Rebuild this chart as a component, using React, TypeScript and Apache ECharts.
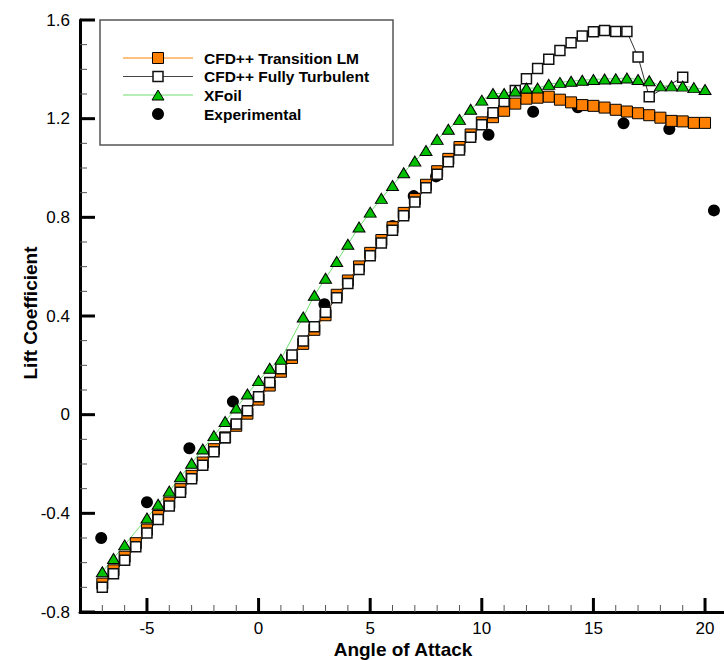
import React, { useEffect, useRef } from "react";
import * as echarts from "echarts";

// ---- Data ----
const tlmAoa = [-7, -6.5, -6, -5.5, -5, -4.5, -4, -3.5, -3, -2.5, -2, -1.5, -1, -0.5, 0, 0.5, 1, 1.5, 2, 2.5, 3, 3.5, 4, 4.5, 5, 5.5, 6, 6.5, 7, 7.5, 8, 8.5, 9, 9.5, 10, 10.5, 11, 11.5, 12, 12.5, 13, 13.5, 14, 14.5, 15, 15.5, 16, 16.5, 17, 17.5, 18, 18.5, 19, 19.5, 20];
const tlmCl = [-0.685, -0.631, -0.576, -0.521, -0.466, -0.411, -0.357, -0.302, -0.248, -0.194, -0.14, -0.092, -0.045, 0.004, 0.061, 0.118, 0.174, 0.23, 0.287, 0.344, 0.403, 0.486, 0.544, 0.601, 0.656, 0.708, 0.76, 0.818, 0.874, 0.932, 0.987, 1.037, 1.085, 1.136, 1.185, 1.206, 1.232, 1.261, 1.281, 1.285, 1.289, 1.277, 1.266, 1.255, 1.252, 1.245, 1.236, 1.229, 1.222, 1.214, 1.204, 1.191, 1.189, 1.183, 1.183];

const ftAoa = [-7, -6.5, -6, -5.5, -5, -4.5, -4, -3.5, -3, -2.5, -2, -1.5, -1, -0.5, 0, 0.5, 1, 1.5, 2, 2.5, 3, 3.5, 4, 4.5, 5, 5.5, 6, 6.5, 7, 7.5, 8, 8.5, 9, 9.5, 10, 10.5, 11, 11.5, 12, 12.5, 13, 13.5, 14, 14.5, 15, 15.5, 16, 16.5, 17, 17.5, 19];
const ftCl = [-0.7, -0.645, -0.59, -0.535, -0.48, -0.425, -0.37, -0.315, -0.26, -0.205, -0.15, -0.094, -0.038, 0.016, 0.073, 0.13, 0.186, 0.242, 0.299, 0.356, 0.415, 0.474, 0.532, 0.589, 0.644, 0.696, 0.748, 0.806, 0.862, 0.92, 0.975, 1.025, 1.073, 1.125, 1.175, 1.224, 1.27, 1.314, 1.362, 1.403, 1.441, 1.476, 1.508, 1.535, 1.552, 1.557, 1.553, 1.553, 1.45, 1.289, 1.368];

const xfAoa = [-7, -6.5, -6, -5, -4.5, -4, -3.5, -3, -2.5, -2, -1.5, -1, -0.5, 0, 0.5, 1, 2, 2.5, 3, 3.5, 4, 4.5, 5, 5.5, 6, 6.5, 7, 7.5, 8, 8.5, 9, 9.5, 10, 10.5, 11, 11.5, 12, 12.5, 13, 13.5, 14, 14.5, 15, 15.5, 16, 16.5, 17, 17.5, 18, 18.5, 19, 19.5, 20];
const xfCl = [-0.637, -0.583, -0.528, -0.419, -0.363, -0.31, -0.252, -0.197, -0.139, -0.085, -0.028, 0.027, 0.084, 0.138, 0.188, 0.225, 0.396, 0.484, 0.553, 0.621, 0.691, 0.761, 0.821, 0.877, 0.929, 0.981, 1.028, 1.071, 1.116, 1.157, 1.197, 1.238, 1.275, 1.302, 1.302, 1.312, 1.324, 1.324, 1.339, 1.347, 1.352, 1.356, 1.359, 1.361, 1.362, 1.365, 1.359, 1.354, 1.333, 1.333, 1.332, 1.326, 1.318];

const expAoa = [-7.05, -5.0, -3.1, -1.15, 2.95, 6.0, 6.95, 7.95, 10.3, 12.3, 14.3, 16.35, 18.4, 20.4];
const expCl = [-0.5, -0.355, -0.136, 0.053, 0.448, 0.765, 0.886, 0.966, 1.135, 1.228, 1.246, 1.181, 1.158, 0.828];

const xMajorTicks = [-5, 0, 5, 10, 15, 20];
const xMinorTicks = [-7, -6, -4, -3, -2, -1, 1, 2, 3, 4, 6, 7, 8, 9, 11, 12, 13, 14, 16, 17, 18, 19];
const yMajorTicks = [-0.8, -0.4, 0, 0.4, 0.8, 1.2, 1.6];
const yMinorTicks = [-0.7, -0.6, -0.5, -0.3, -0.2, -0.1, 0.1, 0.2, 0.3, 0.5, 0.6, 0.7, 0.9, 1.0, 1.1, 1.3, 1.4, 1.5];

const seriesNames = ["CFD++ Transition LM", "CFD++ Fully Turbulent", "XFoil", "Experimental"];
const xTitle = "Angle of Attack";
const yTitle = "Lift Coefficient";

const X_MIN = -8;
const X_MAX = 20.85;
const Y_MIN = -0.8;
const Y_MAX = 1.6;

const FONT = "'Liberation Sans', Arial, Helvetica, sans-serif";
const ORANGE = "#ff8000";
const GREEN = "#00c000";
const GREEN_LINE = "#6ee06e";

const pairs = (xs: number[], ys: number[]) => xs.map((x, i) => [x, ys[i]]);

// tick table: [axis (0 = x, 1 = y), value, major (1) / minor (0)]
const tickRows = [
  ...xMajorTicks.map((v) => [0, v, 1]),
  ...xMinorTicks.map((v) => [0, v, 0]),
  ...yMajorTicks.map((v) => [1, v, 1]),
  ...yMinorTicks.map((v) => [1, v, 0]),
];

export default function App() {
  const ref = useRef<HTMLDivElement>(null);
  useEffect(() => {
    if (!ref.current) return;
    const chart = echarts.init(ref.current, null, { renderer: "svg" });
    const legendRowY = [58, 76.5, 95, 114];
    const lx1 = 123, lx2 = 193, lmx = 158, ltx = 204;
    const option: any = {
      animation: false,
      grid: { left: 80, top: 20, width: 644, height: 592 },
      xAxis: {
        type: "value",
        min: X_MIN,
        max: X_MAX,
        position: "bottom",
        axisLine: { show: true, onZero: false, lineStyle: { color: "#000", width: 3 } },
        axisTick: { show: false },
        axisLabel: { show: true, customValues: xMajorTicks, margin: 8, fontSize: 17, color: "#000", fontFamily: FONT, formatter: (v: number) => String(v) },
        splitLine: { show: false },
      },
      yAxis: {
        type: "value",
        min: Y_MIN,
        max: Y_MAX,
        interval: 0.4,
        axisLine: { show: true, onZero: false, lineStyle: { color: "#000", width: 3 } },
        axisTick: { show: false },
        axisLabel: {
          margin: 10,
          fontSize: 17,
          color: "#000",
          fontFamily: FONT,
          formatter: (v: number) => (Math.abs(v) < 1e-9 ? "0" : v.toFixed(1)),
        },
        splitLine: { show: false },
      },
      series: [
        {
          type: "custom",
          name: "ticks",
          data: tickRows,
          clip: false,
          silent: true,
          z: 10,
          encode: { x: -1, y: -1 },
          renderItem: (params: any, api: any) => {
            const isY = api.value(0) === 1;
            const v = api.value(1);
            const major = api.value(2) === 1;
            const len = major ? (isY ? 15 : 14) : 7;
            const style = { stroke: major ? "#000" : "#555", lineWidth: major ? 3 : 1 };
            if (isY) {
              const p = api.coord([X_MIN, v]);
              return { type: "line", shape: { x1: p[0], y1: p[1], x2: p[0] + len, y2: p[1] }, style };
            }
            const p = api.coord([v, Y_MIN]);
            return { type: "line", shape: { x1: p[0], y1: p[1], x2: p[0], y2: p[1] - len }, style };
          },
        },
        {
          name: seriesNames[0],
          type: "line",
          data: pairs(tlmAoa, tlmCl),
          symbol: "rect",
          symbolSize: 11,
          showAllSymbol: true,
          itemStyle: { color: ORANGE, borderColor: "#000", borderWidth: 1 },
          lineStyle: { color: ORANGE, width: 1 },
        },
        {
          name: seriesNames[1],
          type: "line",
          data: pairs(ftAoa, ftCl),
          symbol: "rect",
          symbolSize: 10,
          showAllSymbol: true,
          itemStyle: { color: "#fff", borderColor: "#111", borderWidth: 1.5 },
          lineStyle: { color: "#333", width: 1 },
        },
        {
          name: seriesNames[2],
          type: "line",
          data: pairs(xfAoa, xfCl),
          symbol: "triangle",
          symbolSize: [12, 10],
          showAllSymbol: true,
          itemStyle: { color: GREEN, borderColor: "#000", borderWidth: 1 },
          lineStyle: { color: GREEN_LINE, width: 1 },
        },
        {
          name: seriesNames[3],
          type: "scatter",
          data: pairs(expAoa, expCl),
          symbol: "circle",
          symbolSize: 12,
          itemStyle: { color: "#000", opacity: 1 },
        },
      ],
      graphic: [
        {
          type: "rect",
          shape: { x: 100, y: 20, width: 293, height: 125 },
          style: { fill: "#fff", stroke: "#555", lineWidth: 1.5 },
          z: 10,
        },
        { type: "line", shape: { x1: lx1, y1: legendRowY[0], x2: lx2, y2: legendRowY[0] }, style: { stroke: ORANGE, lineWidth: 1 }, z: 11 },
        { type: "rect", shape: { x: lmx - 5.5, y: legendRowY[0] - 5.5, width: 11, height: 11 }, style: { fill: ORANGE, stroke: "#000", lineWidth: 1 }, z: 12 },
        { type: "line", shape: { x1: lx1, y1: legendRowY[1], x2: lx2, y2: legendRowY[1] }, style: { stroke: "#444", lineWidth: 1 }, z: 11 },
        { type: "rect", shape: { x: lmx - 5, y: legendRowY[1] - 5, width: 10, height: 10 }, style: { fill: "#fff", stroke: "#111", lineWidth: 1.5 }, z: 12 },
        { type: "line", shape: { x1: lx1, y1: legendRowY[2], x2: lx2, y2: legendRowY[2] }, style: { stroke: GREEN_LINE, lineWidth: 1 }, z: 11 },
        {
          type: "polygon",
          shape: { points: [[lmx - 6, legendRowY[2] + 5], [lmx + 6, legendRowY[2] + 5], [lmx, legendRowY[2] - 5]] },
          style: { fill: GREEN, stroke: "#000", lineWidth: 1 },
          z: 12,
        },
        { type: "circle", shape: { cx: lmx, cy: legendRowY[3], r: 6 }, style: { fill: "#000" }, z: 12 },
        ...seriesNames.map((n, i) => ({
          type: "text",
          x: ltx,
          y: legendRowY[i],
          style: { text: n, fill: "#000", font: `bold 15.5px ${FONT}`, textAlign: "left", textVerticalAlign: "middle" },
          z: 12,
        })),
        {
          type: "text",
          x: 403,
          y: 649,
          style: { text: xTitle, fill: "#000", font: `bold 19px ${FONT}`, textAlign: "center", textVerticalAlign: "middle" },
          z: 12,
        },
        {
          type: "text",
          x: 30,
          y: 313,
          rotation: Math.PI / 2,
          style: { text: yTitle, fill: "#000", font: `bold 19px ${FONT}`, textAlign: "center", textVerticalAlign: "middle" },
          z: 12,
        },
      ],
    };
    chart.setOption(option);
    return () => chart.dispose();
  }, []);
  return <div ref={ref} style={{ position: "absolute", left: 0, top: 0, width: 724, height: 660 }} />;
}
